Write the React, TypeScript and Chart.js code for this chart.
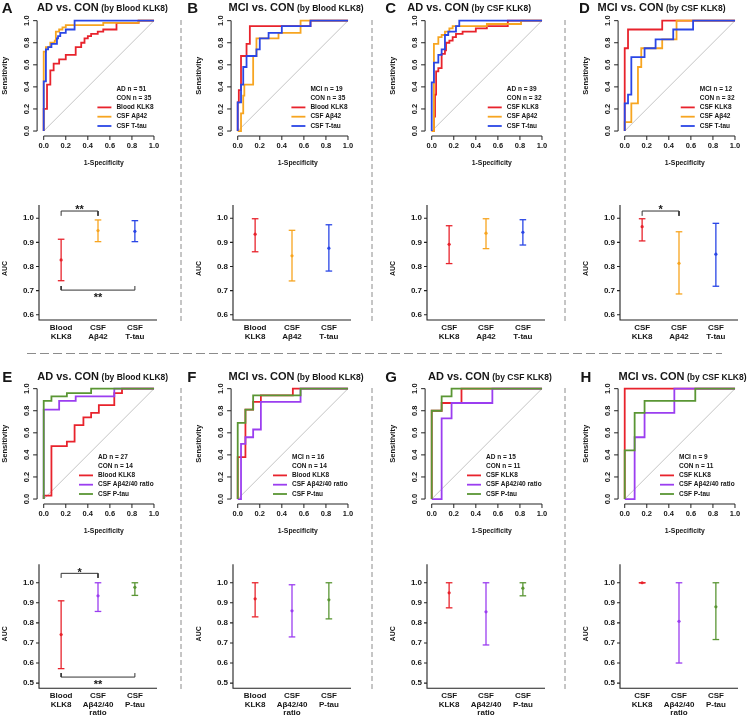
import React, { useEffect, useRef } from "react";
import { Chart, registerables } from "chart.js";
Chart.register(...registerables);

type Pt = [number, number];

// ---------- ROC curves: [1-specificity, sensitivity] step corners ----------
const rocA_bloodKLK8: Pt[] = [[0,0],[0,0.2],[0.03,0.42],[0.06,0.55],[0.09,0.61],[0.14,0.65],[0.2,0.69],[0.29,0.76],[0.34,0.8],[0.37,0.84],[0.4,0.86],[0.43,0.88],[0.49,0.9],[0.54,0.92],[0.66,0.98],[0.86,1],[1,1]];
const rocA_csfAb42: Pt[] = [[0,0],[0,0.72],[0.02,0.76],[0.06,0.8],[0.1,0.82],[0.11,0.9],[0.14,0.92],[0.17,0.94],[0.2,0.96],[0.54,0.98],[0.86,1],[1,1]];
const rocA_csfTtau: Pt[] = [[0,0],[0,0.45],[0.02,0.74],[0.04,0.76],[0.07,0.79],[0.12,0.84],[0.13,0.86],[0.15,0.89],[0.2,0.92],[0.28,1],[1,1]];

const rocB_bloodKLK8: Pt[] = [[0,0],[0,0.26],[0.01,0.37],[0.03,0.68],[0.08,0.79],[0.11,0.95],[0.66,1],[1,1]];
const rocB_csfAb42: Pt[] = [[0,0],[0.03,0.16],[0.05,0.32],[0.06,0.42],[0.14,0.68],[0.17,0.84],[0.37,0.89],[0.57,1],[1,1]];
const rocB_csfTtau: Pt[] = [[0,0],[0,0.26],[0.03,0.42],[0.05,0.58],[0.08,0.68],[0.17,0.74],[0.2,0.84],[0.28,0.89],[0.4,0.95],[0.66,1],[1,1]];

const rocC_csfKLK8: Pt[] = [[0,0],[0.02,0.13],[0.03,0.33],[0.04,0.54],[0.06,0.57],[0.09,0.7],[0.12,0.73],[0.13,0.8],[0.16,0.82],[0.19,0.85],[0.22,0.88],[0.28,0.9],[0.4,0.93],[0.5,0.95],[0.69,1],[1,1]];
const rocC_csfAb42: Pt[] = [[0,0],[0.02,0.33],[0.02,0.79],[0.06,0.85],[0.09,0.87],[0.12,0.9],[0.16,0.93],[0.19,0.95],[0.5,0.97],[0.81,1],[1,1]];
const rocC_csfTtau: Pt[] = [[0,0],[0,0.44],[0.02,0.62],[0.06,0.69],[0.09,0.74],[0.12,0.87],[0.15,0.9],[0.22,0.95],[0.25,1],[1,1]];

const rocD_csfKLK8: Pt[] = [[0,0],[0,0.75],[0.03,0.92],[0.34,1],[1,1]];
const rocD_csfAb42: Pt[] = [[0,0],[0,0.08],[0.06,0.25],[0.12,0.58],[0.15,0.75],[0.34,0.83],[0.47,1],[1,1]];
const rocD_csfTtau: Pt[] = [[0,0],[0,0.25],[0.03,0.33],[0.06,0.67],[0.18,0.75],[0.28,0.83],[0.44,0.92],[0.62,1],[1,1]];

const rocE_bloodKLK8: Pt[] = [[0,0],[0,0.03],[0.07,0.48],[0.21,0.52],[0.28,0.67],[0.36,0.74],[0.43,0.78],[0.5,0.85],[0.64,0.96],[0.71,1],[1,1]];
const rocE_csfRatio: Pt[] = [[0,0],[0,0.81],[0.14,0.89],[0.29,0.93],[0.64,1],[1,1]];
const rocE_csfPtau: Pt[] = [[0,0],[0,0.89],[0.07,0.93],[0.21,0.96],[0.43,1],[1,1]];

const rocF_bloodKLK8: Pt[] = [[0,0],[0,0.38],[0.07,0.81],[0.14,0.88],[0.21,0.94],[0.5,1],[1,1]];
const rocF_csfRatio: Pt[] = [[0,0],[0.03,0.5],[0.07,0.56],[0.14,0.63],[0.21,0.88],[0.57,1],[1,1]];
const rocF_csfPtau: Pt[] = [[0,0],[0,0.69],[0.07,0.81],[0.14,0.94],[0.57,1],[1,1]];

const rocG_csfKLK8: Pt[] = [[0,0],[0,0.8],[0.09,0.87],[0.27,1],[1,1]];
const rocG_csfRatio: Pt[] = [[0,0],[0.09,0.2],[0.09,0.73],[0.18,0.87],[0.55,1],[1,1]];
const rocG_csfPtau: Pt[] = [[0,0],[0,0.8],[0.09,0.93],[0.18,1],[1,1]];

const rocH_csfKLK8: Pt[] = [[0,0],[0,1],[1,1]];
const rocH_csfRatio: Pt[] = [[0,0],[0.09,0.56],[0.18,0.78],[0.45,1],[1,1]];
const rocH_csfPtau: Pt[] = [[0,0],[0,0.44],[0.09,0.78],[0.18,0.89],[0.64,1],[1,1]];

// ---------- AUC with 95% CI ----------
const aucA = [0.827, 0.949, 0.946]; const aucA_lo = [0.741, 0.903, 0.903]; const aucA_hi = [0.913, 0.993, 0.99];
const aucB = [0.934, 0.844, 0.876]; const aucB_lo = [0.861, 0.74, 0.781]; const aucB_hi = [0.998, 0.95, 0.973];
const aucC = [0.892, 0.938, 0.942]; const aucC_lo = [0.812, 0.874, 0.889]; const aucC_hi = [0.969, 0.998, 0.994];
const aucD = [0.965, 0.813, 0.851]; const aucD_lo = [0.906, 0.686, 0.718]; const aucD_hi = [0.998, 0.944, 0.979];
const aucE = [0.742, 0.935, 0.977]; const aucE_lo = [0.572, 0.857, 0.937]; const aucE_hi = [0.91, 1.0, 1.0];
const aucF = [0.92, 0.86, 0.915]; const aucF_lo = [0.83, 0.73, 0.82]; const aucF_hi = [1.0, 0.99, 1.0];
const aucG = [0.95, 0.855, 0.973]; const aucG_lo = [0.875, 0.69, 0.935]; const aucG_hi = [1.0, 1.0, 1.0];
const aucH = [1.0, 0.808, 0.88]; const aucH_lo = [1.0, 0.6, 0.717]; const aucH_hi = [1.0, 1.0, 1.0];

// significance brackets (AUC units)
const sigA = [
  { from: 1, to: 2, at: 1.03, end: 1.01, stars: "**", textAt: 1.048 },
  { from: 1, to: 3, at: 0.702, end: 0.719, stars: "**", textAt: 0.682 },
];
const sigD = [{ from: 1, to: 2, at: 1.03, end: 1.01, stars: "*", textAt: 1.048 }];
const sigE = [
  { from: 1, to: 2, at: 1.047, end: 1.024, stars: "*", textAt: 1.064 },
  { from: 1, to: 3, at: 0.53, end: 0.55, stars: "**", textAt: 0.505 },
];

const rocTicks = [0, 0.2, 0.4, 0.6, 0.8, 1.0];
const aucTicksTop = [0.6, 0.7, 0.8, 0.9, 1.0];
const aucTicksBottom = [0.5, 0.6, 0.7, 0.8, 0.9, 1.0];

const catsBloodTop = [["Blood", "KLK8"], ["CSF", "Aβ42"], ["CSF", "T-tau"]];
const catsCsfTop = [["CSF", "KLK8"], ["CSF", "Aβ42"], ["CSF", "T-tau"]];
const catsBloodBottom = [["Blood", "KLK8"], ["CSF", "Aβ42/40", "ratio"], ["CSF", "P-tau"]];
const catsCsfBottom = [["CSF", "KLK8"], ["CSF", "Aβ42/40", "ratio"], ["CSF", "P-tau"]];

// ---------- styling / layout ----------
const FONT = '"Liberation Sans", Arial, Helvetica, sans-serif';
const TXT = "#161616";
const AX = "#222222";
const RED = "#e8232c";
const ORANGE = "#f7a520";
const BLUE = "#2a46e6";
const PURPLE = "#9b3ef0";
const GREEN = "#5a9634";

const COLX = [0, 194, 388, 581];
const ROWY = [0, 367.6];

const rocPanels = [
  { col: 0, row: 0, n: ["AD n = 51", "CON n = 35"], series: [["Blood KLK8", RED, rocA_bloodKLK8], ["CSF Aβ42", ORANGE, rocA_csfAb42], ["CSF T-tau", BLUE, rocA_csfTtau]] },
  { col: 1, row: 0, n: ["MCI n = 19", "CON n = 35"], series: [["Blood KLK8", RED, rocB_bloodKLK8], ["CSF Aβ42", ORANGE, rocB_csfAb42], ["CSF T-tau", BLUE, rocB_csfTtau]] },
  { col: 2, row: 0, n: ["AD n = 39", "CON n = 32"], series: [["CSF KLK8", RED, rocC_csfKLK8], ["CSF Aβ42", ORANGE, rocC_csfAb42], ["CSF T-tau", BLUE, rocC_csfTtau]] },
  { col: 3, row: 0, n: ["MCI n = 12", "CON n = 32"], series: [["CSF KLK8", RED, rocD_csfKLK8], ["CSF Aβ42", ORANGE, rocD_csfAb42], ["CSF T-tau", BLUE, rocD_csfTtau]] },
  { col: 0, row: 1, n: ["AD n = 27", "CON n = 14"], series: [["Blood KLK8", RED, rocE_bloodKLK8], ["CSF Aβ42/40 ratio", PURPLE, rocE_csfRatio], ["CSF P-tau", GREEN, rocE_csfPtau]] },
  { col: 1, row: 1, n: ["MCI n = 16", "CON n = 14"], series: [["Blood KLK8", RED, rocF_bloodKLK8], ["CSF Aβ42/40 ratio", PURPLE, rocF_csfRatio], ["CSF P-tau", GREEN, rocF_csfPtau]] },
  { col: 2, row: 1, n: ["AD n = 15", "CON n = 11"], series: [["CSF KLK8", RED, rocG_csfKLK8], ["CSF Aβ42/40 ratio", PURPLE, rocG_csfRatio], ["CSF P-tau", GREEN, rocG_csfPtau]] },
  { col: 3, row: 1, n: ["MCI n = 9", "CON n = 11"], series: [["CSF KLK8", RED, rocH_csfKLK8], ["CSF Aβ42/40 ratio", PURPLE, rocH_csfRatio], ["CSF P-tau", GREEN, rocH_csfPtau]] },
];

const aucPanels = [
  { col: 0, row: 0, cats: catsBloodTop, colors: [RED, ORANGE, BLUE], auc: aucA, lo: aucA_lo, hi: aucA_hi, sig: sigA },
  { col: 1, row: 0, cats: catsBloodTop, colors: [RED, ORANGE, BLUE], auc: aucB, lo: aucB_lo, hi: aucB_hi, sig: [] },
  { col: 2, row: 0, cats: catsCsfTop, colors: [RED, ORANGE, BLUE], auc: aucC, lo: aucC_lo, hi: aucC_hi, sig: [] },
  { col: 3, row: 0, cats: catsCsfTop, colors: [RED, ORANGE, BLUE], auc: aucD, lo: aucD_lo, hi: aucD_hi, sig: sigD },
  { col: 0, row: 1, cats: catsBloodBottom, colors: [RED, PURPLE, GREEN], auc: aucE, lo: aucE_lo, hi: aucE_hi, sig: sigE },
  { col: 1, row: 1, cats: catsBloodBottom, colors: [RED, PURPLE, GREEN], auc: aucF, lo: aucF_lo, hi: aucF_hi, sig: [] },
  { col: 2, row: 1, cats: catsCsfBottom, colors: [RED, PURPLE, GREEN], auc: aucG, lo: aucG_lo, hi: aucG_hi, sig: [] },
  { col: 3, row: 1, cats: catsCsfBottom, colors: [RED, PURPLE, GREEN], auc: aucH, lo: aucH_lo, hi: aucH_hi, sig: [] },
];

const aucRows = [
  { top: 190, h: 155, padTop: 15, padBottom: 25, min: 0.578, max: 1.055, ticks: aucTicksTop, catDy: 8.2, aucDy: 6 },
  { top: 550, h: 169, padTop: 14.3, padBottom: 30.7, min: 0.474, max: 1.092, ticks: aucTicksBottom, catDy: 7.6, aucDy: 7.5 },
];

const titles = [
  { letter: "A", lx: 1.7, tx: 37, main: "AD vs. CON", sub: "(by Blood KLK8)", row: 0 },
  { letter: "B", lx: 187.2, tx: 228.5, main: "MCI vs. CON", sub: "(by Blood KLK8)", row: 0 },
  { letter: "C", lx: 385.2, tx: 407.3, main: "AD vs. CON", sub: "(by CSF KLK8)", row: 0 },
  { letter: "D", lx: 578.9, tx: 597.5, main: "MCI vs. CON", sub: "(by CSF KLK8)", row: 0 },
  { letter: "E", lx: 2.2, tx: 37.3, main: "AD vs. CON", sub: "(by Blood KLK8)", row: 1 },
  { letter: "F", lx: 187.2, tx: 228.5, main: "MCI vs. CON", sub: "(by Blood KLK8)", row: 1 },
  { letter: "G", lx: 385.2, tx: 428, main: "AD vs. CON", sub: "(by CSF KLK8)", row: 1 },
  { letter: "H", lx: 580.6, tx: 618.5, main: "MCI vs. CON", sub: "(by CSF KLK8)", row: 1 },
];
const letterBase = [12.7, 382];
const titleBase = [11.7, 380.7];

// ---------- ROC chart ----------
const ROC_W = 190, ROC_H = 160, ROC_TOP = 14;

function rocDecor(p: any) {
  return {
    id: "rocDecor",
    afterDraw(chart: any) {
      const { ctx, chartArea: ca } = chart;
      const xs = chart.scales.x, ys = chart.scales.y;
      const x0 = xs.getPixelForValue(0), x1 = xs.getPixelForValue(1);
      const y0 = ys.getPixelForValue(0), y1 = ys.getPixelForValue(1);
      const bx = ca.bottom, lx = ca.left;
      ctx.save();
      ctx.strokeStyle = AX; ctx.lineWidth = 1;
      ctx.beginPath();
      ctx.moveTo(x0, bx); ctx.lineTo(x1, bx);
      rocTicks.forEach((t) => { const px = xs.getPixelForValue(t); ctx.moveTo(px, bx); ctx.lineTo(px, bx + 4); });
      ctx.moveTo(lx, y0); ctx.lineTo(lx, y1);
      rocTicks.forEach((t) => { const py = ys.getPixelForValue(t); ctx.moveTo(lx, py); ctx.lineTo(lx - 4, py); });
      ctx.stroke();
      ctx.fillStyle = TXT;
      ctx.textAlign = "center"; ctx.textBaseline = "middle";
      ctx.font = `bold 7.5px ${FONT}`;
      rocTicks.forEach((t) => ctx.fillText(t.toFixed(1), xs.getPixelForValue(t), bx + 10));
      rocTicks.forEach((t) => {
        ctx.save(); ctx.translate(lx - 10.3, ys.getPixelForValue(t)); ctx.rotate(-Math.PI / 2);
        ctx.fillText(t.toFixed(1), 0, 0); ctx.restore();
      });
      ctx.font = `bold 6.8px ${FONT}`;
      ctx.fillText("1-Specificity", (x0 + x1) / 2 + 5, bx + 27.3);
      ctx.save(); ctx.translate(lx - 32, (y0 + y1) / 2); ctx.rotate(-Math.PI / 2);
      ctx.font = `bold 7.6px ${FONT}`; ctx.fillText("Sensitivity", 0, 0); ctx.restore();
      // legend
      ctx.font = `bold 6.5px ${FONT}`; ctx.textAlign = "left";
      const rows = [...p.n.map((t: string) => ({ t, c: null })), ...p.series.map((s: any) => ({ t: s[0], c: s[1] }))];
      const maxW = Math.max(...rows.map((r: any) => ctx.measureText(r.t).width));
      const tx = ca.right - 7 - maxW;
      rows.forEach((r: any, i: number) => {
        const yy = ca.bottom - 10 - (rows.length - 1 - i) * 9.3;
        if (r.c) {
          ctx.strokeStyle = r.c; ctx.lineWidth = 1.8;
          ctx.beginPath(); ctx.moveTo(tx - 19, yy); ctx.lineTo(tx - 5, yy); ctx.stroke();
        }
        ctx.fillStyle = TXT; ctx.fillText(r.t, tx, yy);
      });
      ctx.restore();
    },
  };
}

function RocChart({ p }: { p: any }) {
  const ref = useRef<HTMLCanvasElement>(null);
  useEffect(() => {
    const n = p.series.length;
    const datasets: any[] = [
      { data: [{ x: 0, y: 0 }, { x: 1, y: 1 }], showLine: true, borderColor: "#c4c4c4", borderWidth: 1, pointRadius: 0, order: 10 },
      ...p.series.map((s: any, i: number) => ({
        label: s[0],
        data: s[2].map((q: Pt) => ({ x: q[0], y: q[1] })),
        showLine: true, stepped: true, borderColor: s[1], borderWidth: 1.8,
        pointRadius: 0, order: n - i, clip: 2,
      })),
    ];
    const chart = new Chart(ref.current as HTMLCanvasElement, {
      type: "scatter",
      data: { datasets },
      options: {
        animation: false, responsive: false, devicePixelRatio: 1, events: [],
        layout: { padding: { left: 37.1, right: ROC_W - 160.6, top: 1.7, bottom: ROC_TOP + ROC_H - 136 } },
        scales: {
          x: { type: "linear", min: -0.06, max: 1.06, display: false },
          y: { type: "linear", min: -0.045, max: 1.045, display: false },
        },
        plugins: { legend: { display: false }, tooltip: { enabled: false } },
      } as any,
      plugins: [rocDecor(p)],
    });
    return () => chart.destroy();
  }, []);
  return (
    <canvas ref={ref} width={ROC_W} height={ROC_H}
      style={{ position: "absolute", left: COLX[p.col], top: ROWY[p.row] + ROC_TOP, width: ROC_W, height: ROC_H }} />
  );
}

// ---------- AUC chart ----------
const AUC_W = 190;

function aucDecor(p: any, r: any) {
  return {
    id: "aucDecor",
    afterDraw(chart: any) {
      const { ctx, chartArea: ca } = chart;
      const xs = chart.scales.x, ys = chart.scales.y;
      ctx.save();
      ctx.strokeStyle = AX; ctx.lineWidth = 1.1;
      ctx.beginPath();
      ctx.moveTo(ca.left, ca.top); ctx.lineTo(ca.left, ca.bottom); ctx.lineTo(ca.right, ca.bottom);
      r.ticks.forEach((t: number) => { const py = ys.getPixelForValue(t); ctx.moveTo(ca.left, py); ctx.lineTo(ca.left - 3, py); });
      ctx.stroke();
      ctx.fillStyle = TXT;
      ctx.font = `bold 8px ${FONT}`;
      ctx.textAlign = "right"; ctx.textBaseline = "middle";
      r.ticks.forEach((t: number) => ctx.fillText(t.toFixed(1), ca.left - 5, ys.getPixelForValue(t)));
      ctx.textAlign = "center";
      p.cats.forEach((lines: string[], i: number) => {
        const px = xs.getPixelForValue(i + 1);
        lines.forEach((s, j) => ctx.fillText(s, px, ca.bottom + r.catDy + j * 8.6));
      });
      ctx.save(); ctx.translate(ca.left - 33.5, (ca.top + ca.bottom) / 2 + r.aucDy); ctx.rotate(-Math.PI / 2);
      ctx.font = `bold 7px ${FONT}`; ctx.fillText("AUC", 0, 0); ctx.restore();
      ctx.font = `bold 11px ${FONT}`; ctx.textBaseline = "alphabetic";
      p.sig.forEach((s: any) => {
        const px = (xs.getPixelForValue(s.from) + xs.getPixelForValue(s.to)) / 2;
        ctx.fillText(s.stars, px, ys.getPixelForValue(s.textAt) + 6.3);
      });
      ctx.restore();
    },
  };
}

function AucChart({ p }: { p: any }) {
  const ref = useRef<HTMLCanvasElement>(null);
  const r = aucRows[p.row];
  useEffect(() => {
    const datasets: any[] = [];
    p.auc.forEach((v: number, i: number) => {
      const c = p.colors[i];
      datasets.push({
        data: [{ x: i + 1, y: p.lo[i] }, { x: i + 1, y: p.hi[i] }],
        showLine: true, borderColor: c, borderWidth: 1.3,
        pointStyle: "line", pointRadius: 3.3, pointBorderColor: c, pointBorderWidth: 1.3, clip: false,
      });
      datasets.push({
        data: [{ x: i + 1, y: v }],
        pointStyle: "circle", pointRadius: 1.6, pointBackgroundColor: c, pointBorderColor: c, pointBorderWidth: 0, clip: false,
      });
    });
    p.sig.forEach((s: any) => {
      datasets.push({
        data: [{ x: s.from, y: s.end }, { x: s.from, y: s.at }, { x: s.to, y: s.at }, { x: s.to, y: s.end }],
        showLine: true, borderColor: "#333333", borderWidth: 1, pointRadius: 0, clip: false,
      });
    });
    const chart = new Chart(ref.current as HTMLCanvasElement, {
      type: "scatter",
      data: { datasets },
      options: {
        animation: false, responsive: false, devicePixelRatio: 1, events: [],
        layout: { padding: { left: 39, right: AUC_W - 157, top: r.padTop, bottom: r.padBottom } },
        scales: {
          x: { type: "linear", min: 0.4, max: 3.6, display: false },
          y: { type: "linear", min: r.min, max: r.max, display: false },
        },
        plugins: { legend: { display: false }, tooltip: { enabled: false } },
      } as any,
      plugins: [aucDecor(p, r)],
    });
    return () => chart.destroy();
  }, []);
  return (
    <canvas ref={ref} width={AUC_W} height={r.h}
      style={{ position: "absolute", left: COLX[p.col], top: r.top, width: AUC_W, height: r.h }} />
  );
}

// ---------- titles and separators ----------
function Title({ t }: { t: any }) {
  return (
    <>
      <div style={{ position: "absolute", left: t.lx, top: letterBase[t.row] - 12.7, font: `bold 15px/15px ${FONT}`, color: TXT, whiteSpace: "nowrap" }}>{t.letter}</div>
      <div style={{ position: "absolute", left: t.tx, top: titleBase[t.row] - 9.31, display: "flex", alignItems: "baseline", whiteSpace: "nowrap", color: TXT }}>
        <span style={{ font: `bold 11px/11px ${FONT}` }}>{t.main}</span>
        <span style={{ font: `bold 8.5px/8.5px ${FONT}`, marginLeft: 2.5 }}>{t.sub}</span>
      </div>
    </>
  );
}

function Separators() {
  const vx = [181, 372, 565];
  const dashV = "5 3", dashH = "9 4";
  return (
    <svg width={749} height={719} style={{ position: "absolute", left: 0, top: 0 }}>
      {vx.map((x) => (
        <g key={x}>
          <line x1={x} y1={20} x2={x} y2={322} stroke="#8c8c8c" strokeWidth={1} strokeDasharray={dashV} />
          <line x1={x} y1={388} x2={x} y2={690} stroke="#8c8c8c" strokeWidth={1} strokeDasharray={dashV} />
        </g>
      ))}
      <line x1={27} y1={353.5} x2={722} y2={353.5} stroke="#8c8c8c" strokeWidth={1} strokeDasharray={dashH} />
    </svg>
  );
}

export default function App() {
  return (
    <div style={{ position: "absolute", left: 0, top: 0, width: 749, height: 719, overflow: "hidden", background: "#ffffff" }}>
      <Separators />
      {rocPanels.map((p, i) => <RocChart key={"r" + i} p={p} />)}
      {aucPanels.map((p, i) => <AucChart key={"a" + i} p={p} />)}
      {titles.map((t, i) => <Title key={"t" + i} t={t} />)}
    </div>
  );
}
